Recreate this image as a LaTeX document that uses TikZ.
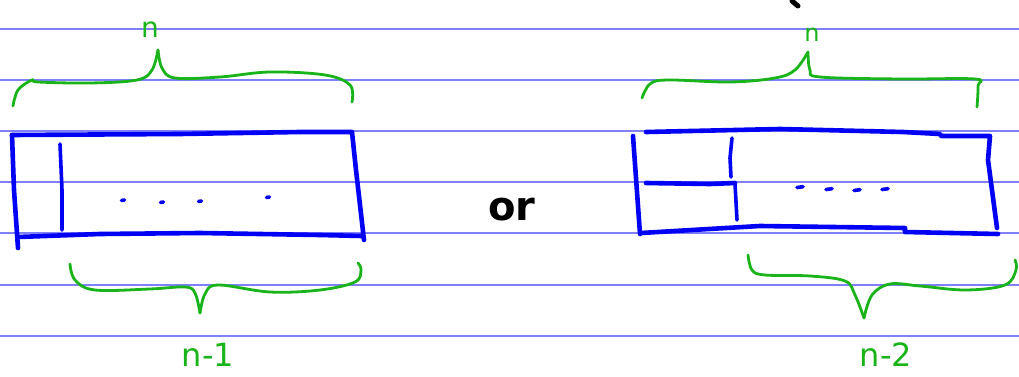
\documentclass[tikz,border=0pt]{standalone}
\usepackage{fontspec}
\setsansfont{DejaVu Sans}
\definecolor{rule}{RGB}{128,128,250}
\definecolor{ink}{RGB}{0,0,245}
\definecolor{gr}{RGB}{25,180,25}
\tikzset{
  ruled/.style={draw=rule, line width=1.4pt},
  box/.style={draw=ink, line width=4.6pt, line join=round, line cap=round},
  inner/.style={draw=ink, line width=3.6pt, line cap=round},
  brace/.style={draw=gr, line width=2.8pt, line cap=round, line join=round},
  lbl/.style={text=gr, font=\sffamily\fontsize{28}{28}\selectfont, inner sep=0pt},
  dotmark/.style={draw=ink, line width=3.6pt, line cap=round}
}
\begin{document}
\begin{tikzpicture}[x=1pt,y=-1pt]
\useasboundingbox (0,0) rectangle (1019,377);
\fill[white] (0,0) rectangle (1019,377);
% ruled lines
\foreach \yy in {29,80,131,182,233,285,336}
  \draw[ruled] (0,\yy) -- (1019,\yy);
% black mark at top
\draw[black, line width=5pt, line cap=round] (792,1) -- (798,6);
% left rectangle
\draw[box] (12,135) -- (180,134) -- (300,132) -- (352,132) -- (356,170) -- (364,240);
\draw[box] (12,135) -- (14,190) -- (18,248);
\draw[box] (18,237) -- (100,234) -- (200,233) -- (320,235) -- (362,236);
\draw[inner] (60,144) -- (62,190) -- (62,230);
\foreach \p in {(123,200),(162,202),(200,201),(268,197)}
  \draw[dotmark] \p ++(-1.5,0.5) -- ++(3,-0.5);
% right rectangle
\draw[box] (646,132) -- (780,129) -- (903,132) -- (940,134) -- (941,136) -- (990,136) -- (988,160) -- (997,228);
\draw[box] (633,136) -- (640,234);
\draw[box] (641,233) -- (760,226) -- (905,228) -- (905,232) -- (998,234);
\draw[box] (646,183) -- (710,184) -- (735,183);
\draw[inner] (732,138) -- (730,158) -- (731,177);
\draw[inner] (735,184) -- (737,220);
\foreach \p in {(800,187),(829,189),(857,190),(885,189)}
  \draw[dotmark] \p ++(-3,0.5) -- ++(6,-0.8);
% or
\node[font=\sffamily\bfseries\fontsize{40}{40}\selectfont, inner sep=0pt] (or) at (512,210) {or};
% top-left brace
\draw[brace] plot[smooth, tension=0.6] coordinates {(13,106) (18,90) (32,80) (38,82) (90,83) (137,80) (152,70) (158,50)};
\draw[brace] plot[smooth, tension=0.6] coordinates {(158,50) (162,68) (175,78) (220,77) (270,72) (325,75) (350,85) (352,102)};
\node[lbl] (n1) at (150,30) {n};
% top-right brace
\draw[brace] plot[smooth, tension=0.6] coordinates {(642,98) (650,84) (668,80) (730,82) (775,78) (795,70) (808,52)};
\draw[brace] plot[smooth, tension=0.6] coordinates {(808,52) (810,70) (820,77) (900,79) (975,79) (978,86) (977,107)};
\node[lbl, font=\sffamily\fontsize{24}{24}\selectfont] (n2) at (812,35) {n};
% bottom-left brace
\draw[brace] plot[smooth, tension=0.6] coordinates {(70,264) (75,280) (95,290) (150,289) (185,287) (195,293) (200,313)};
\draw[brace] plot[smooth, tension=0.6] coordinates {(200,313) (205,294) (218,285) (270,292) (320,290) (355,282) (361,270) (358,263)};
\node[lbl, font=\sffamily\fontsize{32}{32}\selectfont] (nm1) at (208,355) {n-1};
% bottom-right brace
\draw[brace] plot[smooth, tension=0.6] coordinates {(748,255) (752,270) (765,275) (810,276) (845,281) (855,295) (864,318)};
\draw[brace] plot[smooth, tension=0.6] coordinates {(864,318) (872,295) (890,284) (920,286) (966,290) (1005,285) (1016,270) (1015,260)};
\node[lbl, font=\sffamily\fontsize{32}{32}\selectfont] (nm2) at (886,355) {n-2};
\end{tikzpicture}
\end{document}
